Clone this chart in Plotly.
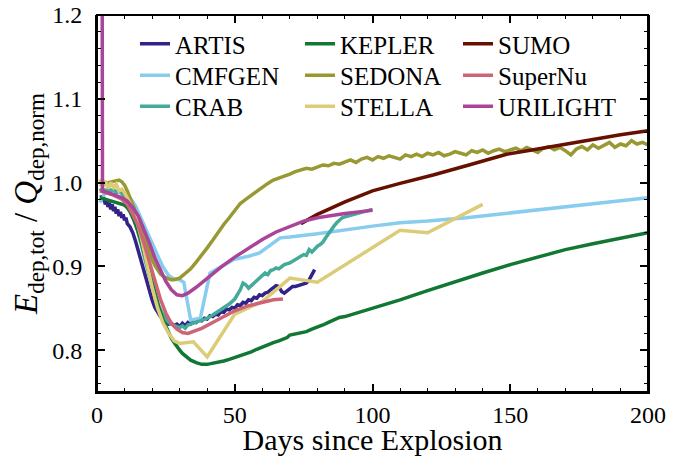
import plotly.graph_objects as go

# ---------------- data ----------------
models = ["ARTIS", "CMFGEN", "CRAB", "KEPLER", "SEDONA", "STELLA", "SUMO", "SuperNu", "URILIGHT"]
colors = ["#332288", "#88CCEE", "#44AA99", "#117733", "#999933", "#DDCC77", "#661100", "#CC6677", "#AA4499"]

artis_days = [1.5, 2, 2.5, 3, 3.5, 4, 4.5, 5, 5.5, 6, 6.5, 7, 7.5, 8, 8.5, 9, 9.5, 10, 10.5, 11, 12, 13, 14, 15,
              16, 17, 18, 19, 20, 21, 22, 23, 24, 25, 26, 27, 28, 29, 30, 31, 32, 33, 34, 35, 36, 37, 38, 39, 40,
              41, 42, 43, 44, 45, 46, 47, 48, 49, 50, 51, 52, 53, 54, 55, 56, 57, 58, 59, 60, 61, 62, 63, 64, 65,
              66, 67, 68, 69, 70, 71, 72, 73, 74, 75, 76, 77, 78, 79]
artis_vals = [0.985, 0.978, 0.982, 0.974, 0.979, 0.971, 0.976, 0.968, 0.974, 0.966, 0.971, 0.963, 0.968, 0.960,
              0.965, 0.958, 0.962, 0.955, 0.958, 0.951, 0.947, 0.940, 0.930, 0.918, 0.905, 0.893, 0.881, 0.870,
              0.860, 0.851, 0.845, 0.840, 0.836, 0.834, 0.831, 0.832, 0.829, 0.831, 0.828, 0.832, 0.829, 0.833,
              0.831, 0.834, 0.833, 0.836, 0.835, 0.838, 0.837, 0.841, 0.840, 0.843, 0.842, 0.846, 0.845, 0.849,
              0.848, 0.851, 0.850, 0.854, 0.853, 0.857, 0.856, 0.860, 0.859, 0.863, 0.862, 0.866, 0.865, 0.868,
              0.869, 0.872, 0.874, 0.877, 0.876, 0.870, 0.868, 0.871, 0.874, 0.876, 0.876, 0.877, 0.878, 0.879,
              0.880, 0.884, 0.890, 0.896]

cmfgen_days = [1, 2, 3, 5, 8, 10, 12, 14, 16, 18, 20, 22, 24, 26, 28, 30, 31.5, 34, 37.5, 41, 45, 49.5, 55, 59,
               66.5, 70, 80, 90, 100, 110, 120, 134, 145, 158, 170, 185, 200]
cmfgen_vals = [0.976, 0.982, 0.988, 0.989, 0.989, 0.987, 0.982, 0.972, 0.958, 0.943, 0.928, 0.913, 0.899, 0.889,
               0.885, 0.884, 0.881, 0.836, 0.838, 0.892, 0.900, 0.908, 0.912, 0.916, 0.934, 0.935, 0.939, 0.944,
               0.948, 0.952, 0.954, 0.958, 0.962, 0.967, 0.971, 0.976, 0.982]

crab_days = [1, 2, 3, 4, 5, 6, 7, 8, 9, 10, 11, 12, 13, 14, 15, 16, 17, 18, 19, 20, 21, 22, 23, 24, 25, 26, 27,
             28, 29, 30, 31, 32, 33, 34, 36, 38, 40, 42, 44, 46, 48, 50, 52, 53, 54, 55, 56, 57, 58, 59, 60, 61,
             62, 63, 64, 65, 66, 67, 68, 70, 72, 74, 75, 76, 77, 78, 79, 80, 81, 82, 83, 84, 85, 86, 87, 88, 89,
             90, 92, 94, 96, 98, 100]
crab_vals = [0.990, 0.993, 0.989, 0.994, 0.990, 0.992, 0.988, 0.990, 0.987, 0.984, 0.978, 0.970, 0.961, 0.951,
             0.940, 0.927, 0.913, 0.900, 0.887, 0.875, 0.864, 0.855, 0.848, 0.842, 0.837, 0.833, 0.831, 0.829,
             0.828, 0.827, 0.829, 0.826, 0.830, 0.831, 0.833, 0.836, 0.838, 0.842, 0.846, 0.850, 0.855, 0.861,
             0.872, 0.880, 0.878, 0.874, 0.877, 0.880, 0.882, 0.886, 0.888, 0.892, 0.890, 0.895, 0.896, 0.898,
             0.897, 0.900, 0.902, 0.904, 0.908, 0.911, 0.914, 0.913, 0.920, 0.917, 0.921, 0.924, 0.926, 0.929,
             0.934, 0.939, 0.944, 0.948, 0.952, 0.955, 0.958, 0.959, 0.961, 0.963, 0.965, 0.966, 0.968]

kepler_days = [1, 2, 4, 6, 8, 10, 11, 12, 13, 14, 15, 16, 17, 18, 19, 20, 21, 22, 23, 24, 25, 26, 27, 28, 29, 30,
               31, 32, 33, 34, 36, 38, 40, 42, 44, 46, 48, 50, 52, 54, 56, 58, 60, 62, 64, 66, 68, 69, 70, 72,
               74, 76, 78, 80, 82, 84, 86, 87, 88, 90, 95, 100, 110, 120, 130, 140, 150, 160, 170, 180, 190, 200]
kepler_vals = [0.982, 0.981, 0.980, 0.978, 0.976, 0.973, 0.970, 0.965, 0.958, 0.950, 0.941, 0.930, 0.918, 0.905,
               0.893, 0.880, 0.868, 0.856, 0.845, 0.836, 0.828, 0.820, 0.814, 0.809, 0.804, 0.800, 0.796, 0.793,
               0.790, 0.788, 0.785, 0.783, 0.783, 0.784, 0.786, 0.787, 0.789, 0.791, 0.793, 0.796, 0.798, 0.801,
               0.804, 0.806, 0.809, 0.811, 0.813, 0.815, 0.818, 0.819, 0.820, 0.822, 0.825, 0.827, 0.830, 0.833,
               0.836, 0.838, 0.839, 0.840, 0.845, 0.849, 0.860, 0.871, 0.882, 0.892, 0.902, 0.911, 0.920, 0.927,
               0.934, 0.940]

sedona_days = [1, 2, 3, 4, 5, 6, 7, 8, 9, 10, 11, 12, 13, 14, 15, 16, 17, 18, 19, 20, 21, 22, 23, 24, 25, 26,
               27, 28, 30, 32, 34, 36, 38, 40, 42, 44, 46, 48, 50, 52, 54, 56, 58, 60, 62, 64, 66, 68, 70, 72,
               74, 76, 78, 80, 82, 84, 86, 88, 90, 92, 94, 96, 98, 100, 102, 104, 106, 108, 110, 112, 114, 116,
               118, 120, 122, 124, 126, 128, 130, 132, 134, 136, 138, 140, 142, 144, 146, 148, 150, 152, 154,
               156, 158, 160, 162, 164, 166, 168, 170, 172, 174, 176, 178, 180, 182, 184, 186, 188, 190, 192,
               194, 196, 198, 200]
sedona_vals = [0.998, 0.997, 0.999, 1.000, 1.001, 1.002, 1.003, 1.003, 1.001, 0.997, 0.990, 0.982, 0.974, 0.965,
               0.955, 0.945, 0.935, 0.925, 0.916, 0.908, 0.901, 0.896, 0.891, 0.888, 0.886, 0.885, 0.884, 0.884,
               0.886, 0.891, 0.897, 0.905, 0.913, 0.922, 0.931, 0.941, 0.950, 0.958, 0.966, 0.975, 0.980, 0.985,
               0.990, 0.994, 0.999, 1.003, 1.005, 1.008, 1.010, 1.013, 1.015, 1.017, 1.016, 1.019, 1.021, 1.020,
               1.023, 1.022, 1.025, 1.027, 1.024, 1.028, 1.030, 1.027, 1.031, 1.029, 1.032, 1.030, 1.028, 1.033,
               1.031, 1.034, 1.031, 1.035, 1.033, 1.036, 1.032, 1.034, 1.037, 1.035, 1.033, 1.038, 1.036, 1.039,
               1.035, 1.038, 1.040, 1.037, 1.039, 1.041, 1.038, 1.042, 1.039, 1.036, 1.041, 1.043, 1.039, 1.042,
               1.038, 1.033, 1.040, 1.043, 1.039, 1.045, 1.041, 1.044, 1.048, 1.042, 1.046, 1.044, 1.050, 1.046,
               1.048, 1.045]

stella_days = [1, 2, 3, 4, 5, 6, 7, 8, 9, 10, 12, 14, 16, 18, 20, 22, 24, 26, 28, 30, 35, 40, 50, 60, 70, 80,
               90, 100, 110, 120, 130, 140]
stella_vals = [1.004, 0.996, 1.002, 0.993, 1.000, 0.994, 0.998, 0.990, 0.992, 0.988, 0.975, 0.960, 0.935, 0.905,
               0.875, 0.850, 0.832, 0.820, 0.811, 0.808, 0.810, 0.792, 0.843, 0.858, 0.886, 0.881, 0.902, 0.922,
               0.943, 0.940, 0.957, 0.974]

sumo_days = [74, 80, 90, 100, 110, 122, 135, 149, 160, 175, 190, 200]
sumo_vals = [0.951, 0.962, 0.977, 0.990, 0.999, 1.009, 1.021, 1.034, 1.040, 1.049, 1.057, 1.062]

supernu_days = [1, 3, 6, 9, 11, 13, 15, 17, 19, 21, 23, 25, 27, 29, 31, 33, 35, 38, 42, 46, 50, 55, 60, 64, 67.5]
supernu_vals = [0.990, 0.988, 0.985, 0.980, 0.974, 0.962, 0.948, 0.928, 0.905, 0.882, 0.861, 0.844, 0.832,
                0.825, 0.821, 0.820, 0.822, 0.826, 0.833, 0.840, 0.847, 0.853, 0.857, 0.860, 0.861]

urilight_days = [1.7, 1.8, 2, 4, 6, 9, 11, 13, 15, 17, 19, 21, 23, 25, 27, 29, 31, 33, 36, 40, 45, 50, 55, 60,
                 65, 70, 75, 80, 85, 90, 95, 100]
urilight_vals = [1.6, 0.992, 0.990, 0.988, 0.986, 0.982, 0.978, 0.970, 0.960, 0.945, 0.928, 0.910, 0.895, 0.882,
                 0.872, 0.866, 0.865, 0.868, 0.875, 0.886, 0.899, 0.911, 0.922, 0.932, 0.941, 0.948, 0.954,
                 0.958, 0.961, 0.963, 0.965, 0.967]

series = [
    (artis_days, artis_vals), (cmfgen_days, cmfgen_vals), (crab_days, crab_vals),
    (kepler_days, kepler_vals), (sedona_days, sedona_vals), (stella_days, stella_vals),
    (sumo_days, sumo_vals), (supernu_days, supernu_vals), (urilight_days, urilight_vals),
]

x_ticks = [0, 50, 100, 150, 200]
y_ticks = [0.8, 0.9, 1.0, 1.1, 1.2]

# ---------------- layout geometry ----------------
# the page body adds an 8 px margin, so the figure is 16 px smaller than the window
OFF = 8
W, H = 690 - 2 * OFF, 464 - 2 * OFF
ML, MT = 97 - OFF, 15 - OFF
PW, PH = 551, 377
MR, MB = W - ML - PW, H - MT - PH

# legend grid: 3 columns x 3 rows (models listed column-wise), window pixels
leg_col_px = [135, 300, 458]
leg_row_px = [44, 75.5, 106.5]

FONT = "Liberation Serif"
fig = go.Figure()
legend_layouts = {}
for i, (name, col, (d, v)) in enumerate(zip(models, colors, series)):
    key = "legend" if i == 0 else "legend%d" % (i + 1)
    fig.add_trace(go.Scatter(
        x=d, y=v, mode="lines", name=name,
        line=dict(color=col, width=3.5),
        legend=key,
    ))
    c, r = i // 3, i % 3
    legend_layouts[key] = dict(
        x=(leg_col_px[c] - OFF - ML) / PW, xanchor="left",
        y=(MT + PH - (leg_row_px[r] - OFF)) / PH, yanchor="middle",
        font=dict(family=FONT, size=25, color="black"),
        bgcolor="rgba(0,0,0,0)", borderwidth=0, itemwidth=30,
    )

top_extra = 30.0 / PH  # mask height above the plot, in paper units

fig.update_layout(
    width=W, height=H,
    margin=dict(l=ML, r=MR, t=MT, b=MB),
    paper_bgcolor="white", plot_bgcolor="white",
    font=dict(family=FONT, size=24, color="black"),
    showlegend=True,
    **legend_layouts,
    xaxis=dict(
        range=[0, 200], tickvals=x_ticks, ticktext=[str(t) for t in x_ticks],
        showgrid=False, zeroline=False, showline=True, linecolor="black", linewidth=2,
        mirror="allticks", ticks="inside", ticklen=8, tickwidth=1.5, tickcolor="black",
        minor=dict(dtick=10, tick0=0, ticks="inside", ticklen=4, tickwidth=1.2, tickcolor="black", showgrid=False),
        tickfont=dict(family=FONT, size=24), ticklabelstandoff=0, automargin=False,
        ticklabeloverflow="allow",
        title=dict(text="Days since Explosion", font=dict(family=FONT, size=30), standoff=9),
    ),
    yaxis=dict(
        range=[0.75, 1.2], tickvals=y_ticks, ticktext=["%.1f" % t for t in y_ticks],
        showgrid=False, zeroline=False, showline=True, linecolor="black", linewidth=2,
        mirror="allticks", ticks="inside", ticklen=8, tickwidth=1.5, tickcolor="black",
        minor=dict(dtick=0.02, tick0=0.8, ticks="inside", ticklen=4, tickwidth=1.2, tickcolor="black", showgrid=False),
        tickfont=dict(family=FONT, size=24), ticklabelstandoff=8, automargin=False,
        ticklabeloverflow="allow",
        title=dict(text="<i>E</i><sub>dep,tot</sub> / <i>Q</i><sub>dep,norm</sub>",
                   font=dict(family=FONT, size=33), standoff=10),
    ),
    shapes=[
        # white mask above the plotting area
        dict(type="rect", xref="paper", yref="paper", x0=-0.005, x1=1.005, y0=1.0, y1=1.0 + top_extra,
             line=dict(width=0), fillcolor="white", layer="above"),
        # axes frame
        dict(type="rect", xref="paper", yref="paper", x0=0, x1=1, y0=0, y1=1,
             line=dict(color="black", width=2), fillcolor="rgba(0,0,0,0)", layer="above"),
    ],
)

fig.write_html("out.html")
